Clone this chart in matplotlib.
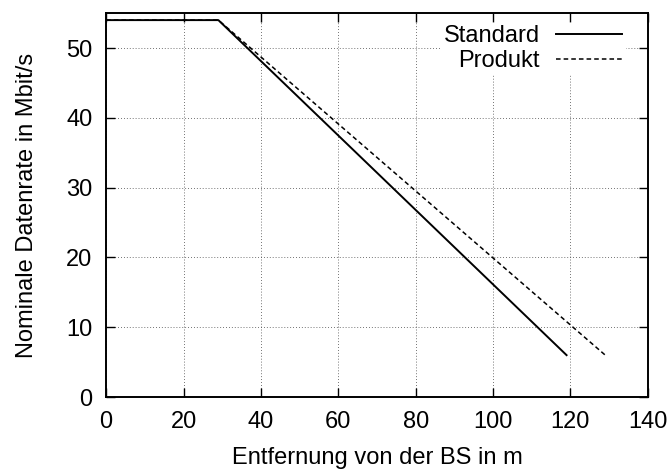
import matplotlib
matplotlib.use('Agg')
import matplotlib.pyplot as plt

plt.rcParams['font.family'] = ['Liberation Sans', 'DejaVu Sans']

# Nominale Datenrate ueber Entfernung (Knickpunkte der Kurven)
std_x = [0, 29, 119]
std_y = [54, 54, 6]
prod_x = [0, 29, 129]
prod_y = [54, 54, 6]

xticks = [0, 20, 40, 60, 80, 100, 120, 140]
yticks = [0, 10, 20, 30, 40, 50]

fs = 17

fig = plt.figure(figsize=(6.72, 4.69), dpi=100)
ax = fig.add_axes([0.158, 0.1535, 0.806, 0.8185])

ax.plot(std_x, std_y, color='black', lw=1.4, label='Standard')
ax.plot(prod_x, prod_y, color='black', lw=1.1, ls=(0, (3, 2)), label='Produkt')

ax.set_xlim(0, 140)
ax.set_ylim(0, 55)
ax.set_xticks(xticks)
ax.set_yticks(yticks)
ax.tick_params(direction='in', top=True, right=True, length=6.5, width=1.0,
               labelsize=fs)
ax.tick_params(axis='x', pad=10)
ax.tick_params(axis='y', pad=10)
ax.grid(True, color='#444444', ls=(0, (1, 2.5)), lw=0.6)
for s in ax.spines.values():
    s.set_linewidth(1.4)

ax.set_xlabel('Entfernung von der BS in m', fontsize=fs, labelpad=10)
ax.set_ylabel('Nominale Datenrate in Mbit/s', fontsize=fs, labelpad=20)

leg = ax.legend(loc='upper right', bbox_to_anchor=(0.957, 0.975),
                markerfirst=False, fontsize=fs, frameon=True,
                framealpha=1, edgecolor='white', fancybox=False,
                handlelength=2.8, borderpad=0.1, labelspacing=0.12,
                borderaxespad=0.0, handletextpad=0.7)
for t in leg.get_texts():
    t.set_ha('right')
leg._legend_box.align = 'right'

fig.savefig('out.png', dpi=100)
